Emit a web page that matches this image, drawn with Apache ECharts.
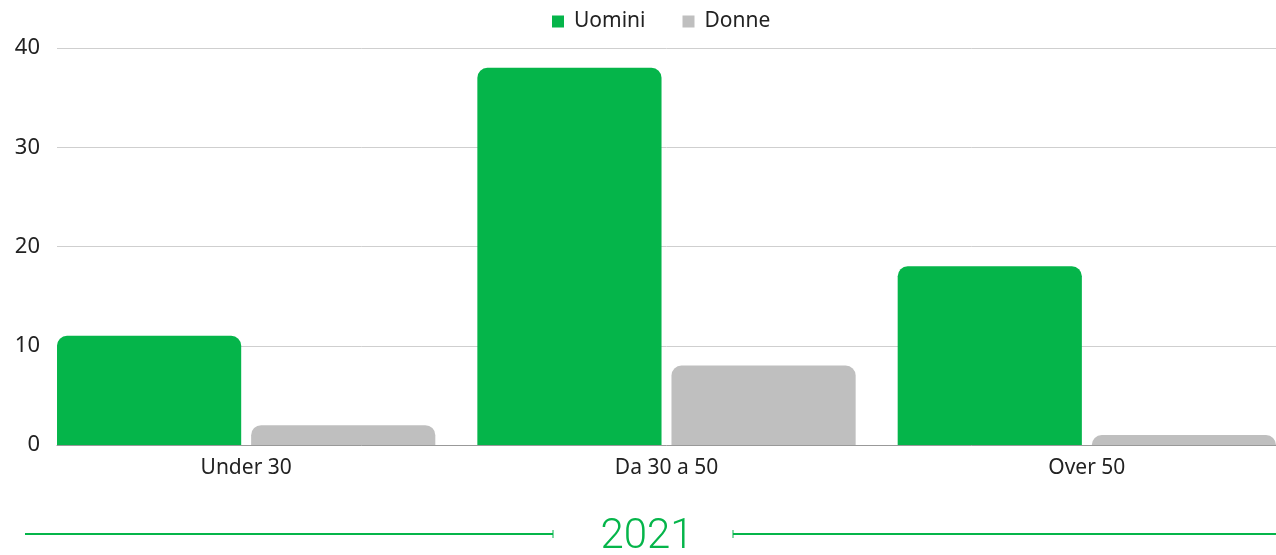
<!DOCTYPE html>
<html><head><meta charset="utf-8">
<script src="https://cdn.jsdelivr.net/npm/echarts@6/dist/echarts.min.js"></script>
<style>html,body{margin:0;padding:0;background:#fff;overflow:hidden;width:1276px;height:555px}#c{width:1297px;height:555px}</style>
</head><body><div id="c"></div>
<script>
const categories = ['Under 30', 'Da 30 a 50', 'Over 50'];
const seriesNames = ['Uomini', 'Donne'];
const uomini = [11, 38, 18];
const donne = [2, 8, 1];
const yTicks = [0, 10, 20, 30, 40];
const yearLabel = '2021';

const GREEN = '#05b54a', GRAY = '#bfbfbf', FONT = 'Noto Sans';
const chart = echarts.init(document.getElementById('c'));
chart.setOption({
  animation: false,
  textStyle: { fontFamily: FONT },
  legend: {
    top: 6, left: 547, itemWidth: 12, itemHeight: 12, itemGap: 37,
    icon: 'rect', textStyle: { fontSize: 21, color: '#222', fontFamily: FONT, padding: [0, 0, 0, 5] },
    data: seriesNames
  },
  title: {
    text: yearLabel, left: 642, textAlign: 'center', top: 511,
    textStyle: { color: GREEN, fontSize: 42, fontWeight: 300, fontFamily: 'Roboto' }
  },
  grid: [
    { left: 36, right: 0, top: 48, bottom: 110, containLabel: false },
    { left: 57, right: 21, top: 48, bottom: 110, containLabel: false }
  ],
  xAxis: [
    { type: 'category', gridIndex: 0, data: categories,
      axisLine: { show: false }, axisTick: { show: false },
      axisLabel: { fontSize: 21, color: '#222', margin: 13, fontFamily: FONT } },
    { type: 'category', gridIndex: 1, data: categories,
      axisLine: { show: true, lineStyle: { color: '#999', width: 1 } },
      axisTick: { show: false }, axisLabel: { show: false } }
  ],
  yAxis: [
    { type: 'value', gridIndex: 0, min: yTicks[0], max: yTicks[yTicks.length - 1], interval: 10,
      show: false, splitLine: { show: false } },
    { type: 'value', gridIndex: 1, min: yTicks[0], max: yTicks[yTicks.length - 1], interval: 10,
      axisLine: { show: false }, axisTick: { show: false },
      axisLabel: { fontSize: 22, color: '#222', margin: 17, fontFamily: FONT },
      splitLine: { lineStyle: { color: '#cfcfcf', width: 1 } } }
  ],
  series: [
    { name: seriesNames[0], type: 'bar', xAxisIndex: 0, yAxisIndex: 0, data: uomini,
      barGap: '5.4%', barCategoryGap: '10%',
      itemStyle: { color: GREEN, borderRadius: [10, 10, 0, 0] } },
    { name: seriesNames[1], type: 'bar', xAxisIndex: 0, yAxisIndex: 0, data: donne,
      itemStyle: { color: GRAY, borderRadius: [10, 10, 0, 0] } }
  ],
  graphic: [
    { type: 'line', shape: { x1: 25, y1: 534, x2: 553, y2: 534 }, style: { stroke: GREEN, lineWidth: 2 } },
    { type: 'line', shape: { x1: 553, y1: 530, x2: 553, y2: 538 }, style: { stroke: GREEN, lineWidth: 1 } },
    { type: 'line', shape: { x1: 733, y1: 534, x2: 1276, y2: 534 }, style: { stroke: GREEN, lineWidth: 2 } },
    { type: 'line', shape: { x1: 733, y1: 530, x2: 733, y2: 538 }, style: { stroke: GREEN, lineWidth: 1 } }
  ]
});
</script></body></html>
